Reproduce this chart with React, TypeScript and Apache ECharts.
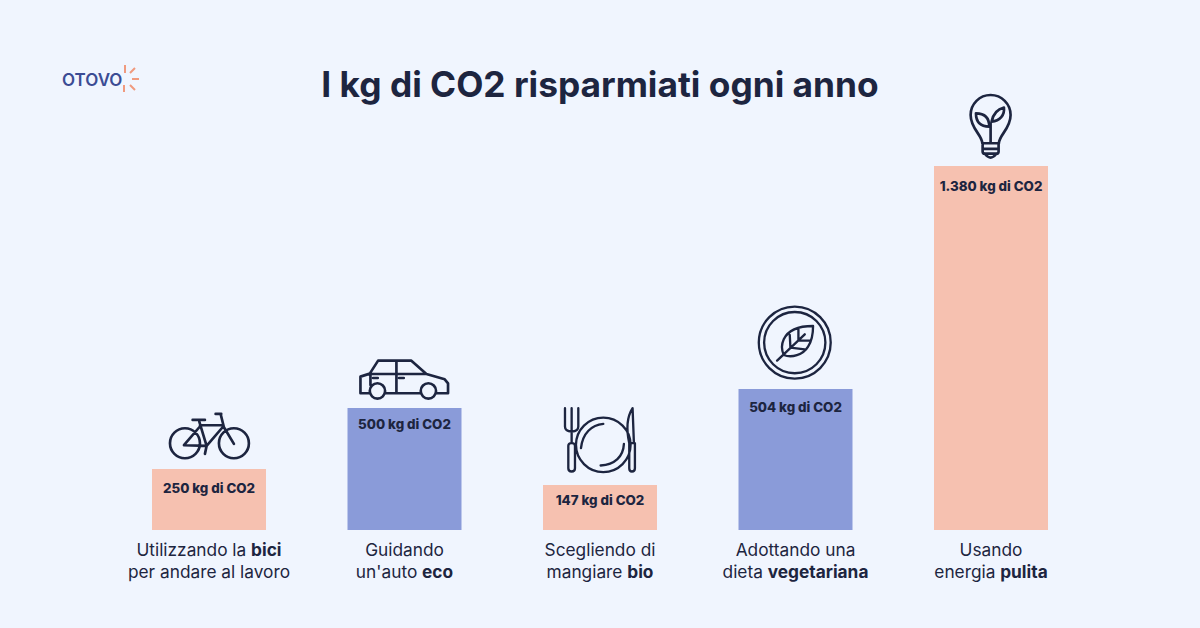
import React, { useEffect, useRef } from "react";
import * as echarts from "echarts";

const titleText = "I kg di CO2 risparmiati ogni anno";
const logoText = "OTOVO";
const categories = [
  "{a|Utilizzando la }{b|bici}\n{a|per andare al lavoro}",
  "{a|Guidando}\n{a|un'auto }{b|eco}",
  "{a|Scegliendo di}\n{a|mangiare }{b|bio}",
  "{a|Adottando una}\n{a|dieta }{b|vegetariana}",
  "{a|Usando}\n{a|energia }{b|pulita}",
];
// Bar heights as drawn in the picture (the reference's bars are not to scale with their labels)
const barHeights = [61, 122, 45, 141, 364];
const valueLabels = ["250 kg di CO2", "500 kg di CO2", "147 kg di CO2", "504 kg di CO2", "1.380 kg di CO2"];
const labelDistances = [12, 9, 8, 11, 13];
const barColors = ["#F6C1B0", "#8A9BD9", "#F6C1B0", "#8A9BD9", "#F6C1B0"];

const INK = "#1D2540";
const FONT = "Inter";

const ICONS: Record<string, string> = {
  bike:
    "M60 310 A45 45 0 1 0 150 310 A45 45 0 1 0 60 310 Z M207 310 A45 45 0 1 0 297 310 A45 45 0 1 0 207 310 Z " +
    "M148 245 L170 318 M150 256 L218 256 M218 262 L170 318 L102 316 L148 262 M212 222 L222 262 L252 312 M197 222 L214 222 " +
    "M128 240 L165 240 M170 318 L165 342",
  car:
    "M660 160 L632 160 L632 110 L660 101 L685 62 L785 62 L830 102 L885 118 L895 130 L895 160 L860 160 M708 160 L812 160 " +
    "M660 102 L830 102 M740 62 L740 158 M662 102 L662 135 M660 153 A23 23 0 1 0 706 153 A23 23 0 1 0 660 153 Z " +
    "M813 153 A23 23 0 1 0 859 153 A23 23 0 1 0 813 153 Z M670 114 L684 114 M748 114 L762 114",
  plate:
    "M78 435 A82 82 0 1 0 242 435 A82 82 0 1 0 78 435 Z M160 372 C125 375 98 400 93 445 M222 432 C220 470 195 495 152 497 " +
    "M45 325 L45 380 Q45 395 65 395 Q85 395 85 380 L85 325 M65 325 L65 430 M55 438 Q55 430 65 430 Q75 430 75 438 L75 505 Q75 515 65 515 Q55 515 55 505 Z " +
    "M248 325 C232 350 228 385 238 430 L252 430 Z M238 438 L238 505 Q238 515 246 515 Q255 515 255 505 L255 430 L238 430 Z",
  leaf:
    "M627 128 A108 108 0 1 0 843 128 A108 108 0 1 0 627 128 Z M643 128 A92 92 0 1 0 827 128 A92 92 0 1 0 643 128 Z " +
    "M790 78 C750 78 715 90 702 118 C694 135 695 150 702 165 C725 175 760 165 775 140 C785 125 790 100 790 78 Z " +
    "M682 182 L765 103 M722 143 L720 105 M746 121 L746 88 M722 143 L765 148 M746 121 L782 122",
  bulb:
    "M157 175 C157 150 122 132 122 90 A60 60 0 0 1 242 90 C242 132 207 150 207 175 Z M160 192 L204 192 M164 206 L200 206 " +
    "M158 178 L158 200 Q158 207 165 207 M206 178 L206 200 Q206 207 199 207 M166 208 Q182 228 198 208 M182 175 L182 115 " +
    "M178 125 C150 125 138 110 138 85 C165 85 178 100 178 125 Z M185 110 C190 85 205 72 222 68 C225 90 210 108 185 110 Z",
  rays:
    "M125 65 L125 73 M135 68 L130 73 M132 79 L139 79 M130 85 L135 90 M124 85 L124 92",
};
Object.entries(ICONS).forEach(([name, d]) => {
  echarts.graphic.registerShape(name, echarts.graphic.extendPath(d, {}));
});

const iconOrigins: [string, number, number, number, number][] = [
  ["bike", 150, 340, 1 / 3, 8],
  ["car", 150, 340, 1 / 3, 8],
  ["plate", 550, 300, 1 / 3, 7],
  ["leaf", 550, 300, 1 / 3, 7],
  ["bulb", 930, 85, 1 / 3, 8],
];

export default function App() {
  const ref = useRef<HTMLDivElement>(null);
  useEffect(() => {
    document.body.style.margin = "0";
    document.body.style.background = "#F0F5FE";
    const chart = echarts.init(ref.current!, undefined, { renderer: "svg" });
    chart.setOption({
      animation: false,
      backgroundColor: "#F0F5FE",
      title: {
        text: titleText,
        left: "center",
        top: 59,
        textStyle: { fontFamily: FONT, fontSize: 35.3, fontWeight: 700, color: INK, lineHeight: 40 },
      },
      grid: { left: 111.25, width: 977.5, top: 130, height: 400 },
      xAxis: {
        type: "category",
        data: categories,
        axisLine: { show: false },
        axisTick: { show: false },
        axisLabel: {
          interval: 0,
          margin: 8,
          lineHeight: 22,
          rich: {
            a: { fontFamily: FONT, fontSize: 17.3, fontWeight: 400, color: INK, lineHeight: 22 },
            b: { fontFamily: FONT, fontSize: 17.3, fontWeight: 700, color: INK, lineHeight: 22 },
          },
        },
      },
      yAxis: { type: "value", min: 0, max: 400, show: false },
      series: [
        {
          type: "bar",
          barWidth: 114,
          data: barHeights.map((v, i) => ({
            value: v,
            itemStyle: { color: barColors[i] },
            label: {
              show: true,
              position: "insideTop",
              distance: labelDistances[i],
              formatter: valueLabels[i],
              fontFamily: FONT,
              fontSize: 13.3,
              fontWeight: 800,
              color: INK,
            },
          })),
        },
      ],
      graphic: [
        ...iconOrigins.map(([type, x, y, s, w]) => ({
          type,
          x,
          y,
          scaleX: s,
          scaleY: s,
          silent: true,
          style: { fill: "none", stroke: INK, lineWidth: w, lineJoin: "round", lineCap: "round" },
        })),
        {
          type: "text",
          x: 62,
          y: 71,
          style: { text: logoText, fontFamily: FONT, fontSize: 17, fontWeight: 600, fill: "#3B4C94" },
        },
        {
          type: "rays",
          silent: true,
          style: { fill: "none", stroke: "#F09A7E", lineWidth: 2 },
        },
      ],
    });
    return () => chart.dispose();
  }, []);
  return <div ref={ref} style={{ width: 1200, height: 628, position: "absolute", left: 0, top: 0 }} />;
}
